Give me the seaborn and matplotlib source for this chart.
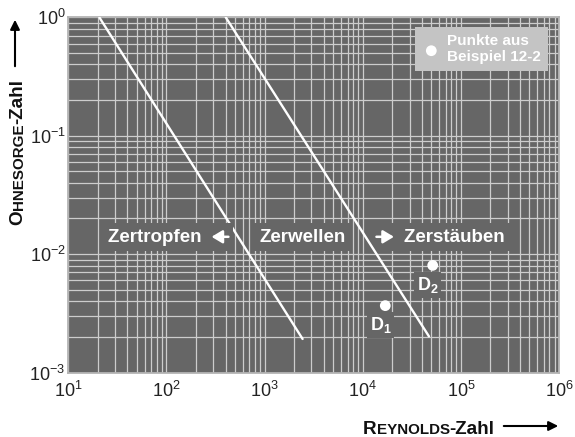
import numpy as np
import pandas as pd
import matplotlib
matplotlib.use("Agg")
import matplotlib.pyplot as plt
import seaborn as sns
from matplotlib.ticker import LogLocator, NullFormatter
from matplotlib.transforms import IdentityTransform

# ! Daten ---------------------------------------------------------------

# ? Grenzlinien im Ohnesorge-Diagramm (Anfang / Ende)
re_grenze_1 = [20.7, 2440]
oh_grenze_1 = [1.0, 1.92e-3]
re_grenze_2 = [402, 47300]
oh_grenze_2 = [1.0, 2.02e-3]

# ? Punkte aus Beispiel 12-2
punkte_name = [r"$\mathbf{D_1}$", r"$\mathbf{D_2}$"]
punkte_re = [16980, 51650]
punkte_oh = [3.67e-3, 8.03e-3]

bereiche = ["Zertropfen", "Zerwellen", "Zerstäuben"]
legende_text = "Punkte aus\nBeispiel 12-2"

x_ticks = [1e1, 1e2, 1e3, 1e4, 1e5, 1e6]
y_ticks = [1e-3, 1e-2, 1e-1, 1e0]

hintergrund = "#666666"
gitter = "#cdcdcd"

# ! Stil ----------------------------------------------------------------

sns.set_style("white", {"axes.facecolor": hintergrund})
plt.rcParams["font.family"] = ["Liberation Sans", "DejaVu Sans"]
plt.rcParams["mathtext.fontset"] = "custom"
plt.rcParams["mathtext.rm"] = "Liberation Sans"
plt.rcParams["mathtext.bf"] = "Liberation Sans:bold"
plt.rcParams["mathtext.it"] = "Liberation Sans:italic"

fig = plt.figure(figsize=(5.75, 4.37), dpi=100)
ax = fig.add_axes([68.3 / 575, 1 - 372.5 / 437, 490.7 / 575, 355.2 / 437])
ax.set_xscale("log")
ax.set_yscale("log")

# ! Linien und Punkte -----------------------------------------------------

linien = pd.DataFrame({
    "Re": re_grenze_1 + re_grenze_2,
    "Oh": oh_grenze_1 + oh_grenze_2,
    "linie": ["a", "a", "b", "b"],
})
sns.lineplot(data=linien, x="Re", y="Oh", hue="linie", palette=["white", "white"],
             legend=False, linewidth=1.7, ax=ax, zorder=3)

sns.scatterplot(x=punkte_re, y=punkte_oh, color="white", s=60, edgecolor="none",
                label=legende_text, ax=ax, zorder=4)

for name, r, o in zip(punkte_name, punkte_re, punkte_oh):
    ax.annotate(name, xy=(r, o), xytext=(-3.5, -14), textcoords="offset points",
                ha="center", va="center", color="white", fontsize=13,
                bbox=dict(boxstyle="square,pad=0.15", fc=hintergrund, ec="none"), zorder=5)

# ? Bereiche (Leerzeichen lassen Platz fuer die Pfeile)
box = dict(boxstyle="square,pad=0.3", fc=hintergrund, ec="none")
ax.text(25.4, 0.0127, bereiche[0] + "     ", ha="left", va="baseline", color="white",
        fontsize=13.5, fontweight="bold", bbox=box, zorder=5)
ax.text(2460, 0.0127, bereiche[1], ha="center", va="baseline", color="white",
        fontsize=13.5, fontweight="bold", bbox=box, zorder=5)
ax.text(16000, 0.0127, "    " + bereiche[2], ha="left", va="baseline", color="white",
        fontsize=13.5, fontweight="bold", bbox=box, zorder=5)

klein_pfeil = dict(arrowstyle="-|>,head_length=0.5,head_width=0.3", color="white",
                   lw=1.8, mutation_scale=13, shrinkA=0, shrinkB=0)
ax.annotate("", xy=(288, 0.0140), xytext=(428, 0.0140), arrowprops=klein_pfeil, zorder=6)
ax.annotate("", xy=(20800, 0.0140), xytext=(13800, 0.0140), arrowprops=klein_pfeil, zorder=6)

# ! Achsen --------------------------------------------------------------

ax.set_xlim(x_ticks[0], x_ticks[-1])
ax.set_ylim(y_ticks[0], y_ticks[-1])
ax.xaxis.set_major_locator(LogLocator(base=10))
ax.yaxis.set_major_locator(LogLocator(base=10))
ax.xaxis.set_minor_locator(LogLocator(base=10, subs=np.arange(2, 10)))
ax.yaxis.set_minor_locator(LogLocator(base=10, subs=np.arange(2, 10)))
ax.xaxis.set_minor_formatter(NullFormatter())
ax.yaxis.set_minor_formatter(NullFormatter())
ax.set_xlabel("")
ax.set_ylabel("")
ax.tick_params(which="both", length=0, labelsize=13, colors="#222222")
ax.tick_params(axis="x", pad=6)
ax.tick_params(axis="y", pad=2)
ax.grid(which="both", color=gitter, linewidth=0.9)
ax.set_axisbelow(True)
for s in ax.spines.values():
    s.set_color("#b4b4b4")
    s.set_linewidth(1.3)

leg = ax.legend(loc="upper right", bbox_to_anchor=(0.977, 0.972), borderaxespad=0,
                frameon=True, fancybox=False, facecolor="#c4c4c4", edgecolor="none",
                framealpha=1, labelcolor="white", handlelength=1.25, handletextpad=0.4,
                borderpad=0.45, prop={"weight": "bold", "size": 11})
leg.set_zorder(6)

# ! Achsentitel in Kapitaelchen -------------------------------------------

fig.canvas.draw()
renderer = fig.canvas.get_renderer()


def kapitaelchen(x, y, teile, vertikal):
    for text, groesse in teile:
        t = fig.text(x, y, text, transform=IdentityTransform(), fontsize=groesse,
                     fontweight="bold", color="#111111",
                     rotation=90 if vertikal else 0, rotation_mode="anchor",
                     ha="left", va="baseline")
        bb = t.get_window_extent(renderer)
        if vertikal:
            y = bb.y1
        else:
            x = bb.x1


kapitaelchen(363, 437 - 433.5, [("R", 13.6), ("EYNOLDS", 10.9), ("-Zahl", 13.6)], False)
kapitaelchen(22.7, 437 - 225, [("O", 13.6), ("HNESORGE", 10.9), ("-Zahl", 13.6)], True)

pfeil = dict(arrowstyle="-|>", color="black", lw=1.5, mutation_scale=14)
ax.annotate("", xy=(561, 437 - 426), xytext=(501, 437 - 426),
            xycoords="figure pixels", arrowprops=pfeil)
ax.annotate("", xy=(15, 437 - 17), xytext=(15, 437 - 69),
            xycoords="figure pixels", arrowprops=pfeil)

fig.savefig("out.png", dpi=100)
